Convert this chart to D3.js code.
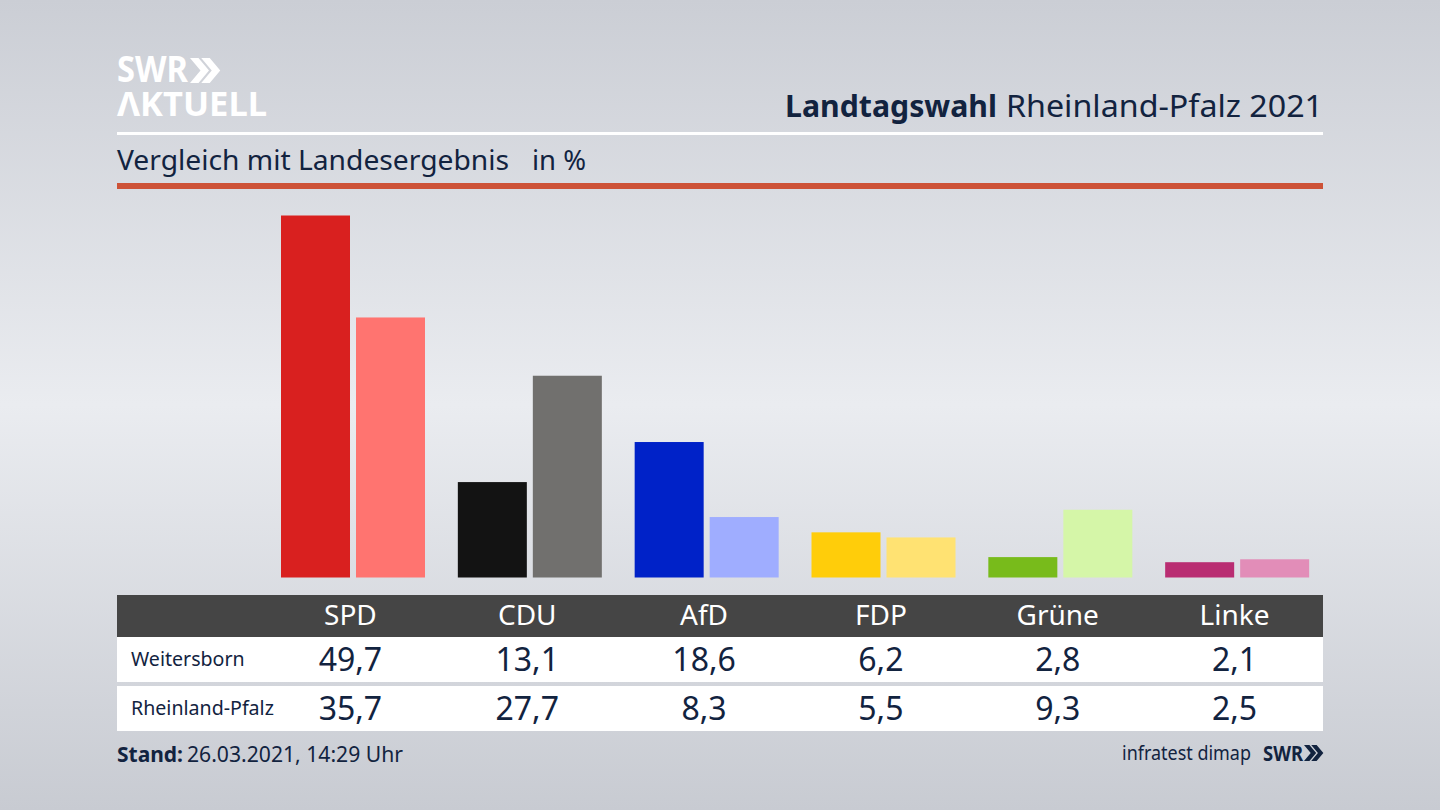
<!DOCTYPE html>
<html>
<head>
<meta charset="utf-8">
<script src="https://cdn.jsdelivr.net/npm/d3@7"></script>
<style>
  html, body { margin: 0; padding: 0; background: #d8dae0; }
  svg { display: block; }
  text { font-family: "Noto Sans", sans-serif; fill: #12233f; }
</style>
</head>
<body>
<svg id="chart" width="1440" height="810"></svg>
<script>
var parties = ['SPD', 'CDU', 'AfD', 'FDP', 'Grüne', 'Linke'];
var regions = ['Weitersborn', 'Rheinland-Pfalz'];
var weitersborn = [49.7, 13.1, 18.6, 6.2, 2.8, 2.1];
var rheinlandPfalz = [35.7, 27.7, 8.3, 5.5, 9.3, 2.5];
var coloursDark = ['#d9201f', '#131313', '#0022c8', '#ffcd0a', '#78bb1b', '#b92d72'];
var coloursLight = ['#ff7470', '#71706e', '#9fadff', '#ffe272', '#d5f6a8', '#e28db8'];

var svg = d3.select('#chart');
var defs = svg.append('defs');

var bg = defs.append('linearGradient').attr('id', 'bg')
  .attr('x1', 0).attr('y1', 0).attr('x2', 0).attr('y2', 1);
bg.append('stop').attr('offset', '0%').attr('stop-color', '#cbced5');
bg.append('stop').attr('offset', '50%').attr('stop-color', '#eaecf0');
bg.append('stop').attr('offset', '100%').attr('stop-color', '#c8cbd2');

svg.append('rect').attr('width', 1440).attr('height', 810).attr('fill', 'url(#bg)');

// fitted text: keeps the width measured on the reference
function fitted(px, py, size, width, weight, label, colour) {
  return svg.append('text').attr('x', px).attr('y', py).attr('font-size', size)
    .attr('font-weight', weight).attr('textLength', width).attr('lengthAdjust', 'spacingAndGlyphs')
    .style('fill', colour || '#12233f').text(label);
}

// logo top left
fitted(117, 81.5, 35, 71, 700, 'SWR', '#fff');
fitted(117, 116, 34, 150, 700, 'ΛKTUELL', '#fff');

function chevrons(x, y, h, colour) {
  // two arrows, used for both logos
  var w = h * 0.42, t = h * 0.34;
  [0, h * 0.45].forEach(function (dx) {
    svg.append('path')
      .attr('d', 'M' + (x + dx) + ',' + y + 'h' + t + 'l' + w + ',' + (h / 2) + 'l' + (-w) + ',' + (h / 2) + 'h' + (-t) + 'l' + w + ',' + (-h / 2) + 'z')
      .attr('fill', colour);
  });
}
chevrons(190, 58, 25, '#fff');

// header
fitted(785, 117, 31, 212, 700, 'Landtagswahl');
fitted(1006, 117, 31, 317, 400, 'Rheinland-Pfalz 2021');

svg.append('rect').attr('x', 117).attr('y', 132).attr('width', 1206).attr('height', 3).attr('fill', '#fff');
fitted(117, 170, 28, 392, 400, 'Vergleich mit Landesergebnis');
fitted(532, 170, 28, 54, 400, 'in %');
svg.append('rect').attr('x', 117).attr('y', 183).attr('width', 1206).attr('height', 6).attr('fill', '#cd5237');

// bars
var x = d3.scaleBand().domain(parties).range([262, 1323]);
var inner = d3.scaleBand().domain(regions).range([19, 163]).paddingInner(0.08);
var y = d3.scaleLinear().domain([0, 49.7]).range([577.5, 215.5]);

[weitersborn, rheinlandPfalz].forEach(function (values, s) {
  var colours = s === 0 ? coloursDark : coloursLight;
  svg.append('g').selectAll('rect')
    .data(values)
    .enter()
    .append('rect')
    .attr('x', function (d, i) { return x(parties[i]) + inner(regions[s]); })
    .attr('y', function (d) { return y(d); })
    .attr('width', inner.bandwidth())
    .attr('height', function (d) { return y(0) - y(d); })
    .attr('fill', function (d, i) { return colours[i]; });
});

// table
svg.append('rect').attr('x', 117).attr('y', 595).attr('width', 1206).attr('height', 42).attr('fill', '#454545');
svg.append('rect').attr('x', 117).attr('y', 637).attr('width', 1206).attr('height', 45).attr('fill', '#fff');
svg.append('rect').attr('x', 117).attr('y', 686).attr('width', 1206).attr('height', 45).attr('fill', '#fff');

svg.append('g').selectAll('text')
  .data(parties)
  .enter()
  .append('text')
  .attr('x', function (d) { return x(d) + x.bandwidth() / 2; })
  .attr('y', 625)
  .attr('text-anchor', 'middle')
  .attr('font-size', 28)
  .style('fill', '#fff')
  .text(function (d) { return d; });

[weitersborn, rheinlandPfalz].forEach(function (values, s) {
  var base = s === 0 ? 671 : 720;
  svg.append('text').attr('x', 131).attr('y', s === 0 ? 666 : 715).attr('font-size', 19.6).text(regions[s]);
  svg.append('g').selectAll('text')
    .data(values)
    .enter()
    .append('text')
    .attr('x', function (d, i) { return x(parties[i]) + x.bandwidth() / 2; })
    .attr('y', base)
    .attr('text-anchor', 'middle')
    .attr('font-size', 32)
    .text(function (d) { return d.toFixed(1).replace('.', ','); });
});

// footer
fitted(117, 762, 22, 66, 700, 'Stand:');
fitted(187, 762, 22, 216, 400, '26.03.2021, 14:29 Uhr');

fitted(1122, 760, 20, 129, 400, 'infratest dimap');
fitted(1263, 761, 21, 40, 700, 'SWR');
chevrons(1304, 745, 16, '#12233f');
</script>
</body>
</html>
